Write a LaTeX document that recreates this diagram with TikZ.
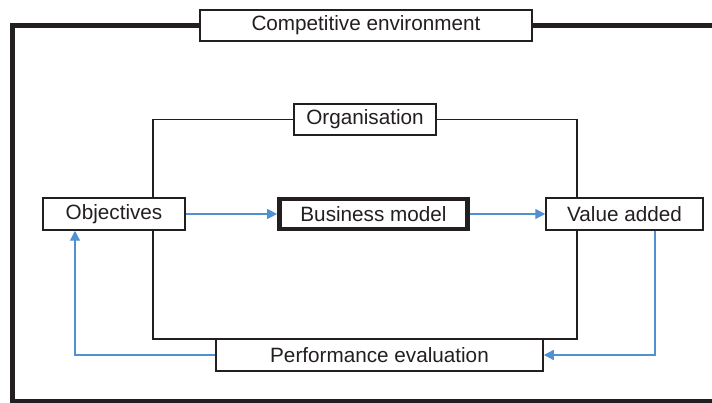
\documentclass[tikz,border=0pt]{standalone}
\usepackage{fontspec}
\setmainfont{Liberation Sans}
\usetikzlibrary{arrows.meta}
\definecolor{ink}{RGB}{35,31,32}
\definecolor{flow}{RGB}{80,145,210}
\tikzset{
  box/.style={draw=ink, line width=1.5pt, fill=white, text=ink, inner sep=0pt,
    font=\fontsize{20.7}{24}\selectfont},
  thickbox/.style={box, line width=4.7pt},
  frame/.style={draw=ink, line width=5pt},
  thinframe/.style={draw=ink, line width=1.5pt},
  flowline/.style={draw=flow, line width=1.3pt},
  flowarrow/.style={flowline, -{Triangle[length=10pt,width=10pt]}}
}
\begin{document}
\begin{tikzpicture}[x=1pt,y=-1pt]
\useasboundingbox (0,0) rectangle (712,403);
% outer frame (open at right)
\draw[frame] (730,25.5) -- (12.5,25.5) -- (12.5,401) -- (730,401);
% inner rectangle
\draw[thinframe] (153,119.5) rectangle (577,339);
% nodes
\node[box, minimum width=332pt, minimum height=31pt] (ce) at (366,25.5) {Competitive environment};
\node[box, minimum width=142pt, minimum height=31pt] (org) at (365,119.5) {Organisation};
\node[box, minimum width=142pt, minimum height=32pt] (obj) at (114,214) {Objectives};
\node[thickbox, minimum width=188pt, minimum height=30pt] (bm) at (373.5,214) {Business model};
\node[box, minimum width=157pt, minimum height=32pt] (va) at (624.5,214) {Value added};
\node[box, minimum width=327pt, minimum height=32pt] (pe) at (379.5,355) {Performance evaluation};
% flow coordinates
\coordinate (cr) at (655,0);
\coordinate (cl) at (75,0);
% connectors
\draw[flowarrow] (obj) -- (bm);
\draw[flowarrow] (bm) -- (va);
\draw[flowarrow] (va.south -| cr) |- (pe.east);
\draw[flowarrow] (pe.west) -| (obj.south -| cl);
\end{tikzpicture}
\end{document}
